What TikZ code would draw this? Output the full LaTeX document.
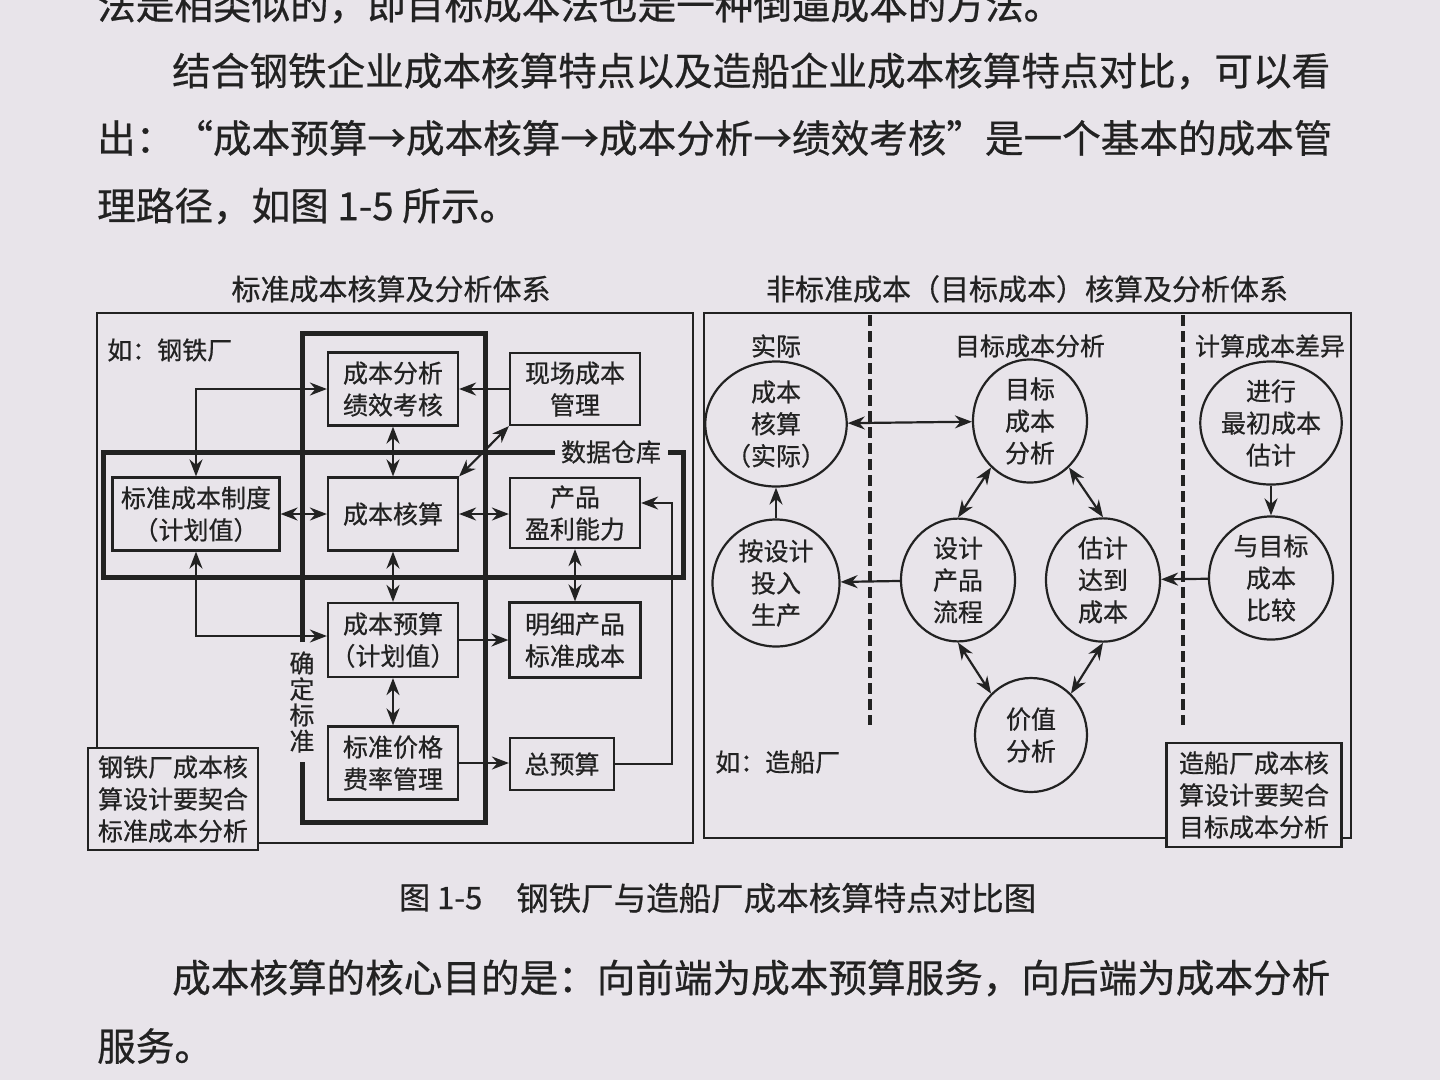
\documentclass[tikz,border=0pt]{standalone}
\usepackage{fontspec}
\setmainfont{Noto Sans CJK SC}[FakeBold=0.6]
\usetikzlibrary{arrows.meta,shapes.geometric}
\definecolor{bg}{HTML}{E8E4EA}
\definecolor{ink}{HTML}{222222}
\newcommand\fsz[2]{\fontsize{#1}{#2}\selectfont}
\tikzset{
  body/.style={inner sep=0pt, text=ink, font=\fsz{38.6}{50}},
  lbl/.style={inner sep=0pt, text=ink, font=\fsz{25}{32}, align=center},
  ttl/.style={inner sep=0pt, text=ink, font=\fsz{29}{34}},
  boxn/.style={draw=ink, line width=2.2pt, fill=bg, text=ink, align=center, inner sep=0pt, font=\fsz{25}{32}},
  circn/.style={ellipse, draw=ink, line width=2.2pt, fill=bg, text=ink, align=center, inner sep=0pt, font=\fsz{25}{32}},
  frame/.style={draw=ink, line width=2pt},
  heavy/.style={draw=ink, line width=5pt},
  arr/.style={draw=ink, line width=2.2pt, -{Stealth[length=17pt,width=13pt]}},
  darr/.style={draw=ink, line width=2.2pt, {Stealth[length=17pt,width=13pt]}-{Stealth[length=17pt,width=13pt]}},
  dashline/.style={draw=ink, line width=4.5pt, dash pattern=on 11pt off 5pt},
}
\begin{document}
\begin{tikzpicture}[x=1pt,y=-1pt]
\useasboundingbox (0,0) rectangle (1440,1080);
\clip (0,0) rectangle (1440,1080);
\fill[bg] (0,0) rectangle (1440,1080);

% body text
\node[body, anchor=west] (t0) at (97,5) {法是相类似的，即目标成本法也是一种倒逼成本的方法。};
\node[body, anchor=west] (t1) at (172,71) {结合钢铁企业成本核算特点以及造船企业成本核算特点对比，可以看};
\node[body, anchor=west] (t2) at (97,138) {出：“成本预算→成本核算→成本分析→绩效考核”是一个基本的成本管};
\node[body, anchor=west] (t3) at (97,206) {理路径，如图 1-5 所示。};
\node[body, anchor=west] (t4) at (172,978) {成本核算的核心目的是：向前端为成本预算服务，向后端为成本分析};
\node[body, anchor=west] (t5) at (97,1046) {服务。};

% titles
\node[ttl] (lt) at (391,289) {标准成本核算及分析体系};
\node[ttl] (rt) at (1027,289) {非标准成本（目标成本）核算及分析体系};

% caption
\node[inner sep=0pt, text=ink, font=\fsz{31}{36}, anchor=west] (cap1) at (399,898) {图 1-5};
\node[inner sep=0pt, text=ink, font=\fsz{32.5}{36}, anchor=west] (cap2) at (516,898) {钢铁厂与造船厂成本核算特点对比图};

% ================= left panel =================
\draw[frame] (97,313) rectangle (693,843);
\node[lbl, anchor=west] (gt) at (107,350) {如：钢铁厂};

% thick loops
\draw[heavy] (302,642) -- (302,333) -- (485,333) -- (485,822) -- (302,822) -- (302,762);
\node[lbl, font=\fsz{25}{26}] (qd) at (302,702) {确\\定\\标\\准};
\draw[heavy] (555,452) -- (103,452) -- (103,577) -- (683,577) -- (683,452) -- (668,452);
\node[lbl] (dw) at (611,452) {数据仓库};

% boxes
\node[boxn, minimum width=130, minimum height=73] (an) at (393,389) {成本分析\\绩效考核};
\node[boxn, minimum width=130, minimum height=72] (xc) at (575,389) {现场成本\\管理};
\node[boxn, minimum width=167, minimum height=73] (bz) at (196,514) {标准成本制度\\（计划值）};
\node[boxn, minimum width=130, minimum height=73] (hs) at (393,514) {成本核算};
\node[boxn, minimum width=130, minimum height=70] (cp) at (575,513) {产品\\盈利能力};
\node[boxn, minimum width=130, minimum height=74] (ys) at (393,640) {成本预算\\（计划值）};
\node[boxn, minimum width=131, minimum height=75] (mx) at (575,640) {明细产品\\标准成本};
\node[boxn, minimum width=130, minimum height=73] (bj) at (393,763) {标准价格\\费率管理};
\node[boxn, minimum width=104, minimum height=52] (zy) at (562,764) {总预算};
\node[boxn, minimum width=170, minimum height=102] (n1) at (173,799) {钢铁厂成本核\\算设计要契合\\标准成本分析};

% arrows
\draw[darr] (bz.north) |- (an.west);
\draw[arr] (xc.west) -- (an.east);
\draw[darr] (an.south) -- (hs.north);
\draw[darr] (xc.south west) -- (hs.north east);
\draw[darr] (bz.east) -- (hs.west);
\draw[darr] (hs.east) -- (hs.east -| cp.west);
\draw[darr] (hs.south) -- (ys.north);
\draw[darr] (cp.south) -- (mx.north);
\draw[darr] (bz.south) |- ([yshift=4pt]ys.west);
\draw[arr] (ys.east) -- (mx.west);
\draw[darr] (ys.south) -- (bj.north);
\draw[arr] (bj.east) -- (bj.east -| zy.west);
\coordinate (rc) at (672,503);
\draw[arr] (zy.east) -| (rc) -- ([yshift=10pt]cp.east);

% ================= right panel =================
\draw[frame] (704,313) rectangle (1351,838);
\draw[dashline] (870,315) -- (870,725);
\draw[dashline] (1183,315) -- (1183,725);
\node[lbl] (h1) at (776,346) {实际};
\node[lbl] (h2) at (1030,346) {目标成本分析};
\node[lbl] (h3) at (1270,346) {计算成本差异};

\node[circn, minimum width=126, minimum height=125] (c1) at (776,424) {成本\\核算\\（实际）};
\node[circn, minimum width=114, minimum height=110] (c2) at (1030,421) {目标\\成本\\分析};
\node[circn, minimum width=124, minimum height=120] (c3) at (1271,423) {进行\\最初成本\\估计};
\node[circn, minimum width=127, minimum height=127] (c4) at (776,583) {按设计\\投入\\生产};
\node[circn, minimum width=114, minimum height=120] (c5) at (958,580) {设计\\产品\\流程};
\node[circn, minimum width=114, minimum height=120] (c6) at (1103,580) {估计\\达到\\成本};
\node[circn, minimum width=124, minimum height=123] (c7) at (1271,578) {与目标\\成本\\比较};
\node[circn, minimum width=112, minimum height=114] (c8) at (1031,735) {价值\\分析};

\draw[darr] (c1) -- (c2);
\draw[arr] (c4) -- (c1);
\draw[darr] (c2.230) -- (c5.north);
\draw[darr] (c2.310) -- (c6.north);
\draw[darr] (c5.south) -- (c8.134);
\draw[darr] (c6.south) -- (c8.46);
\draw[arr] (c3) -- (c7);
\draw[arr] (c7) -- (c6);
\draw[arr] (c5) -- (c4);

\node[lbl, anchor=west] (zc) at (715,762) {如：造船厂};
\node[boxn, minimum width=175, minimum height=104] (n2) at (1254,795) {造船厂成本核\\算设计要契合\\目标成本分析};
\end{tikzpicture}
\end{document}
